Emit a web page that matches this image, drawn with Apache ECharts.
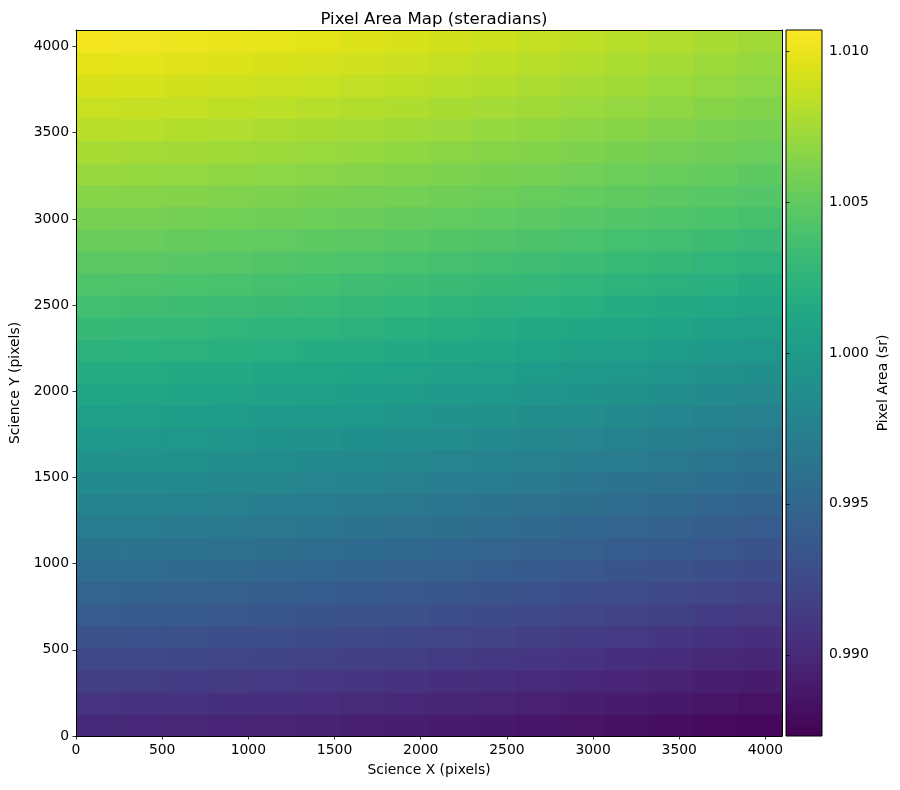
<!DOCTYPE html>
<html><head><meta charset="utf-8">
<script src="https://cdn.jsdelivr.net/npm/echarts@6/dist/echarts.min.js"></script>
<style>html,body{margin:0;padding:0;background:#fff}#chart{width:900px;height:790px}</style>
</head><body><div id="chart"></div>
<script>
// Column edges (Science X, pixels) and row edges (Science Y, pixels) of the sampled cells
const xEdges = [0, 256, 512, 768, 1024, 1280, 1536, 1792, 2048, 2304, 2560, 2816, 3072, 3328, 3584, 3840, 4096];
const yEdges = [0, 128, 256, 384, 512, 640, 768, 896, 1024, 1152, 1280, 1408, 1536, 1664, 1792, 1920,
  2048, 2176, 2304, 2432, 2560, 2688, 2816, 2944, 3072, 3200, 3328, 3456, 3584, 3712, 3840, 3968, 4096];
// Pixel area (sr), one row per y band, bottom row first
const areaRows = [
  [0.990025,0.989957,0.989866,0.989758,0.989638,0.989506,0.989365,0.989214,0.989054,0.988887,0.988713,0.988532,0.988345,0.988153,0.987954,0.987748],
  [0.990813,0.990742,0.990647,0.990535,0.990410,0.990273,0.990125,0.989968,0.989802,0.989628,0.989447,0.989258,0.989063,0.988863,0.988655,0.988442],
  [0.991602,0.991527,0.991426,0.991308,0.991175,0.991029,0.990873,0.990706,0.990530,0.990346,0.990154,0.989953,0.989747,0.989535,0.989315,0.989088],
  [0.992390,0.992311,0.992207,0.992084,0.991946,0.991795,0.991633,0.991459,0.991277,0.991085,0.990886,0.990678,0.990464,0.990244,0.990016,0.989781],
  [0.993180,0.993098,0.992990,0.992863,0.992720,0.992564,0.992395,0.992216,0.992026,0.991828,0.991622,0.991406,0.991184,0.990956,0.990720,0.990476],
  [0.993967,0.993883,0.993771,0.993639,0.993491,0.993329,0.993155,0.992969,0.992773,0.992568,0.992355,0.992131,0.991901,0.991665,0.991421,0.991169],
  [0.994757,0.994670,0.994554,0.994418,0.994266,0.994098,0.993918,0.993726,0.993523,0.993311,0.993090,0.992859,0.992622,0.992378,0.992124,0.991864],
  [0.995545,0.995456,0.995339,0.995200,0.995045,0.994875,0.994692,0.994496,0.994291,0.994075,0.993850,0.993616,0.993374,0.993126,0.992869,0.992604],
  [0.996304,0.996214,0.996095,0.995954,0.995797,0.995623,0.995438,0.995239,0.995030,0.994811,0.994583,0.994344,0.994099,0.993847,0.993585,0.993316],
  [0.997036,0.996945,0.996823,0.996680,0.996520,0.996344,0.996155,0.995954,0.995741,0.995519,0.995287,0.995045,0.994795,0.994539,0.994274,0.994000],
  [0.997766,0.997673,0.997550,0.997404,0.997242,0.997063,0.996871,0.996666,0.996451,0.996225,0.995989,0.995743,0.995490,0.995230,0.994960,0.994682],
  [0.998498,0.998405,0.998282,0.998136,0.997974,0.997795,0.997603,0.997398,0.997183,0.996957,0.996721,0.996475,0.996222,0.995962,0.995692,0.995414],
  [0.999186,0.999093,0.998970,0.998824,0.998662,0.998483,0.998291,0.998086,0.997871,0.997645,0.997409,0.997163,0.996910,0.996650,0.996380,0.996102],
  [0.999829,0.999738,0.999616,0.999473,0.999313,0.999137,0.998948,0.998747,0.998534,0.998312,0.998080,0.997838,0.997588,0.997332,0.997067,0.996793],
  [1.000472,1.000382,1.000263,1.000122,0.999965,0.999791,0.999606,0.999407,0.999198,0.998979,0.998751,0.998512,0.998267,0.998015,0.997753,0.997484],
  [1.001117,1.001030,1.000914,1.000778,1.000626,1.000458,1.000278,1.000086,0.999883,0.999671,0.999450,0.999219,0.998982,0.998738,0.998484,0.998224],
  [1.001744,1.001658,1.001544,1.001410,1.001260,1.001095,1.000918,1.000729,1.000530,1.000321,1.000104,0.999877,0.999643,0.999403,0.999154,0.998898],
  [1.002361,1.002279,1.002171,1.002044,1.001901,1.001745,1.001576,1.001397,1.001207,1.001009,1.000803,1.000587,1.000365,1.000137,0.999901,0.999657],
  [1.002974,1.002895,1.002791,1.002668,1.002530,1.002379,1.002217,1.002043,1.001861,1.001669,1.001470,1.001262,1.001048,1.000828,1.000600,1.000365],
  [1.003590,1.003515,1.003414,1.003296,1.003163,1.003017,1.002861,1.002694,1.002518,1.002334,1.002142,1.001941,1.001735,1.001523,1.001303,1.001076],
  [1.004189,1.004116,1.004020,1.003906,1.003778,1.003638,1.003487,1.003327,1.003157,1.002980,1.002795,1.002602,1.002404,1.002200,1.001988,1.001770],
  [1.004775,1.004705,1.004612,1.004502,1.004380,1.004245,1.004101,1.003946,1.003783,1.003613,1.003436,1.003250,1.003059,1.002863,1.002660,1.002451],
  [1.005361,1.005293,1.005204,1.005099,1.004982,1.004853,1.004714,1.004566,1.004410,1.004246,1.004076,1.003898,1.003715,1.003527,1.003332,1.003131],
  [1.005946,1.005882,1.005797,1.005696,1.005584,1.005460,1.005327,1.005185,1.005036,1.004879,1.004716,1.004546,1.004371,1.004191,1.004004,1.003812],
  [1.006516,1.006452,1.006367,1.006266,1.006154,1.006030,1.005897,1.005755,1.005606,1.005449,1.005286,1.005116,1.004941,1.004761,1.004574,1.004382],
  [1.007071,1.007005,1.006918,1.006815,1.006700,1.006574,1.006438,1.006293,1.006140,1.005980,1.005814,1.005640,1.005461,1.005277,1.005086,1.004889],
  [1.007627,1.007559,1.007470,1.007365,1.007248,1.007119,1.006980,1.006832,1.006676,1.006512,1.006342,1.006164,1.005981,1.005793,1.005598,1.005397],
  [1.008181,1.008111,1.008018,1.007908,1.007786,1.007651,1.007507,1.007352,1.007189,1.007019,1.006842,1.006656,1.006465,1.006269,1.006066,1.005857],
  [1.008722,1.008649,1.008553,1.008439,1.008311,1.008171,1.008020,1.007860,1.007690,1.007513,1.007328,1.007135,1.006937,1.006733,1.006521,1.006303],
  [1.009248,1.009171,1.009068,1.008948,1.008813,1.008664,1.008505,1.008335,1.008155,1.007968,1.007772,1.007568,1.007357,1.007141,1.006917,1.006687],
  [1.009772,1.009689,1.009579,1.009450,1.009305,1.009145,1.008974,1.008792,1.008599,1.008397,1.008187,1.007968,1.007742,1.007510,1.007269,1.007021],
  [1.010297,1.010210,1.010094,1.009958,1.009806,1.009638,1.009458,1.009266,1.009063,1.008851,1.008630,1.008399,1.008162,1.007918,1.007664,1.007404]
];
const xTicks = [0, 500, 1000, 1500, 2000, 2500, 3000, 3500, 4000];
const yTicks = [0, 500, 1000, 1500, 2000, 2500, 3000, 3500, 4000];
const cbarTicks = [0.990, 0.995, 1.000, 1.005, 1.010];
const cbarRange = [0.98731, 1.0107];
const viridis = ['#440154','#471365','#482475','#463480','#414487','#3b528b','#355f8d','#2f6c8e',
  '#2a788e','#25848e','#21918c','#1e9c89','#22a884','#2fb47c','#44bf70','#5ec962','#7ad151',
  '#9bd93c','#bddf26','#dfe318','#fde725'];

const FONT = "'DejaVu Sans', sans-serif";
const cells = [];
for (let r = 0; r < areaRows.length; r++) {
  for (let c = 0; c < areaRows[r].length; c++) {
    cells.push([xEdges[c], xEdges[c + 1], yEdges[r], yEdges[r + 1], areaRows[r][c]]);
  }
}

const chart = echarts.init(document.getElementById('chart'), null, {renderer: 'canvas'});
const tickStyle = {show: true, length: 3.5, lineStyle: {color: '#000', width: 0.8}};
const labelStyle = {color: '#000', fontSize: 13.9, fontFamily: FONT};

chart.setOption({
  backgroundColor: '#fff',
  animation: false,
  title: {
    text: 'Pixel Area Map (steradians)', left: 429, top: 6, textAlign: 'center',
    textStyle: {fontSize: 16.6, fontWeight: 'normal', color: '#000', fontFamily: FONT}
  },
  grid: [
    {left: 76, top: 30, width: 706, height: 706, show: false, containLabel: false, outerBoundsMode: 'none'},
    {left: 786, top: 30, width: 36, height: 706, show: false, containLabel: false, outerBoundsMode: 'none'}
  ],
  xAxis: [
    {
      type: 'value', gridIndex: 0, min: 0, max: 4096, z: 10,
      name: 'Science X (pixels)', nameLocation: 'middle', nameGap: 27,
      nameTextStyle: {color: '#000', fontSize: 13.9, fontFamily: FONT},
      axisLine: {show: true, onZero: false, lineStyle: {color: '#000', width: 1}},
      axisTick: Object.assign({customValues: xTicks}, tickStyle),
      axisLabel: Object.assign({customValues: xTicks, margin: 7, formatter: v => String(v)}, labelStyle),
      splitLine: {show: false}
    },
    {
      type: 'value', gridIndex: 0, min: 0, max: 4096, position: 'top', z: 10,
      axisLine: {show: true, onZero: false, lineStyle: {color: '#000', width: 1}},
      axisTick: {show: false}, axisLabel: {show: false}, splitLine: {show: false}
    },
    {type: 'value', gridIndex: 1, min: 0, max: 1, show: false}
  ],
  yAxis: [
    {
      type: 'value', gridIndex: 0, min: 0, max: 4096, z: 10,
      name: 'Science Y (pixels)', nameLocation: 'middle', nameGap: 52, nameRotate: 90,
      nameTextStyle: {color: '#000', fontSize: 13.9, fontFamily: FONT},
      axisLine: {show: true, onZero: false, lineStyle: {color: '#000', width: 1}},
      axisTick: Object.assign({customValues: yTicks}, tickStyle),
      axisLabel: Object.assign({customValues: yTicks, margin: 7, formatter: v => String(v)}, labelStyle),
      splitLine: {show: false}
    },
    {
      type: 'value', gridIndex: 0, min: 0, max: 4096, position: 'right', z: 10,
      axisLine: {show: true, onZero: false, lineStyle: {color: '#000', width: 1}},
      axisTick: {show: false}, axisLabel: {show: false}, splitLine: {show: false}
    },
    {
      type: 'value', gridIndex: 1, min: cbarRange[0], max: cbarRange[1], position: 'right', z: 10,
      name: 'Pixel Area (sr)', nameLocation: 'middle', nameGap: 54, nameRotate: 90,
      nameTextStyle: {color: '#000', fontSize: 13.9, fontFamily: FONT},
      axisLine: {show: false},
      axisTick: Object.assign({customValues: cbarTicks}, tickStyle),
      axisLabel: Object.assign({customValues: cbarTicks, margin: 7,
        formatter: v => v.toFixed(3)}, labelStyle),
      splitLine: {show: false}
    }
  ],
  visualMap: {
    type: 'continuous', show: false, seriesIndex: 0, dimension: 4,
    min: cbarRange[0], max: cbarRange[1], inRange: {color: viridis}
  },
  series: [
    {
      type: 'custom', xAxisIndex: 0, yAxisIndex: 0, clip: true,
      encode: {x: [0, 1], y: [2, 3]},
      data: cells,
      renderItem: function (params, api) {
        const a = api.coord([api.value(0), api.value(3)]);
        const b = api.coord([api.value(1), api.value(2)]);
        return {
          type: 'rect',
          shape: {x: a[0], y: a[1], width: b[0] - a[0] + 0.8, height: b[1] - a[1] + 0.8},
          style: {fill: api.visual('color')}
        };
      }
    },
    {
      type: 'custom', xAxisIndex: 2, yAxisIndex: 2, clip: false,
      encode: {x: [0, 1], y: [2, 3]},
      data: [[0, 1, cbarRange[0], cbarRange[1]]],
      renderItem: function (params, api) {
        const a = api.coord([api.value(0), api.value(3)]);
        const b = api.coord([api.value(1), api.value(2)]);
        const stops = viridis.map((c, i) => ({offset: i / (viridis.length - 1), color: c}));
        return {
          type: 'rect',
          shape: {x: a[0], y: a[1], width: b[0] - a[0], height: b[1] - a[1]},
          style: {fill: new echarts.graphic.LinearGradient(0, 1, 0, 0, stops), stroke: '#000', lineWidth: 1}
        };
      }
    }
  ]
});
</script>
</body></html>
